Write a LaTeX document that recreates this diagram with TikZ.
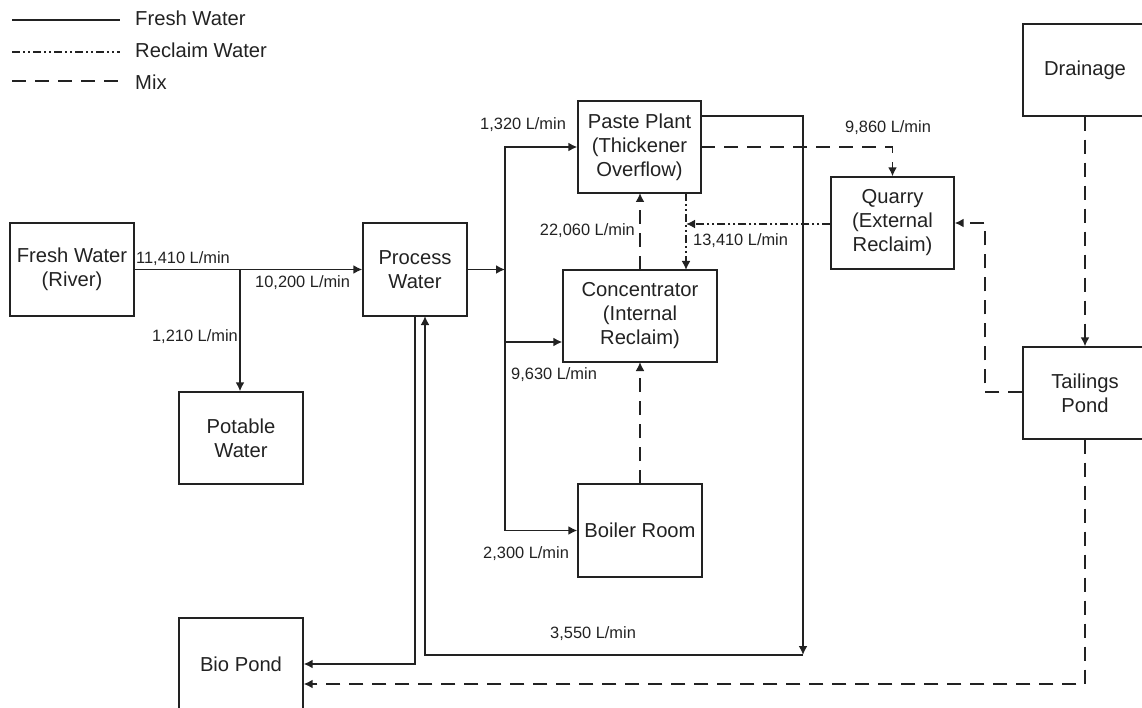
\documentclass[tikz,border=0pt]{standalone}
\usepackage{fontspec}
\setmainfont{Liberation Sans}
\usetikzlibrary{arrows.meta}
\definecolor{ink}{HTML}{222222}
\newcommand{\boxfont}{\fontsize{20.2}{24}\selectfont}
\newcommand{\lblfont}{\fontsize{16.4}{19}\selectfont}
\tikzset{
  box/.style={draw=ink, line width=1.3pt, align=center, inner sep=0pt, text=ink, font=\boxfont},
  lbl/.style={inner sep=0pt, text=ink, font=\lblfont},
  lgd/.style={inner sep=0pt, text=ink, font=\boxfont, anchor=west},
  fresh/.style={draw=ink, line width=1.9pt},
  reclaim/.style={draw=ink, line width=1.9pt, dash pattern=on 8pt off 3pt on 2pt off 3pt on 2pt off 3pt},
  mix/.style={draw=ink, line width=1.9pt, dash pattern=on 14pt off 9pt},
  tip/.style={-{Latex[length=9pt,width=9pt]}}
}
\begin{document}
\begin{tikzpicture}[x=1pt,y=-1pt]
\useasboundingbox (0,0) rectangle (1142,708);
\clip (0,0) rectangle (1142,708);

% legend
\coordinate (la1) at (12,20);  \coordinate (lb1) at (120,20);
\coordinate (la2) at (12,52);  \coordinate (lb2) at (120,52);
\coordinate (la3) at (12,81);  \coordinate (lb3) at (120,81);
\draw[fresh] (la1) -- (lb1);
\draw[reclaim] (la2) -- (lb2);
\draw[mix] (la3) -- (lb3);
\node[lgd] (lt1) at (135,18) {Fresh Water};
\node[lgd] (lt2) at (135,50) {Reclaim Water};
\node[lgd] (lt3) at (135,82) {Mix};

% boxes
\node[box, minimum width=124pt, minimum height=93pt] (fw) at (72,269.5) {Fresh Water\\(River)};
\node[box, minimum width=104pt, minimum height=93pt] (pw) at (415,269.5) {Process\\Water};
\node[box, minimum width=124pt, minimum height=92pt] (pot) at (241,438) {Potable\\Water};
\node[box, minimum width=124pt, minimum height=92pt] (bio) at (241,664) {Bio Pond};
\node[box, minimum width=123pt, minimum height=92pt] (pp) at (639.5,147) {Paste Plant\\(Thickener\\Overflow)};
\node[box, minimum width=154pt, minimum height=92pt] (conc) at (640,316) {Concentrator\\(Internal\\Reclaim)};
\node[box, minimum width=124pt, minimum height=93pt] (boil) at (640,530.5) {Boiler Room};
\node[box, minimum width=123pt, minimum height=92pt] (quar) at (892.5,223) {Quarry\\(External\\Reclaim)};
\node[box, minimum width=124pt, minimum height=92pt] (drain) at (1085,70) {Drainage};
\node[box, minimum width=124pt, minimum height=92pt] (tail) at (1085,393) {Tailings\\Pond};

% fresh water
\coordinate (b1) at (240,269.5);
\draw[fresh,tip] (fw.east) -- (pw.west);
\draw[fresh,tip] (b1) -- (b1 |- pot.north);
\coordinate (bt) at (505,147);
\coordinate (bm) at (505,269.5);
\coordinate (bc) at (505,342);
\coordinate (bb) at (505,530.5);
\draw[fresh,tip] (pw.east) -- (bm);
\draw[fresh,tip] (bb) -- (bt) -- (pp.west |- bt);
\draw[fresh,tip] (bc) -- (conc.west |- bc);
\draw[fresh,tip] (bb) -- (boil.west |- bb);
\coordinate (p1) at (415,316);
\coordinate (p2) at (415,664);
\draw[fresh,tip] (p1) -- (p2) -- (bio.east |- p2);
\coordinate (r0) at (701,116);
\coordinate (r1) at (803,116);
\coordinate (r2) at (803,655);
\coordinate (r3) at (425,655);
\coordinate (r4) at (425,316);
\draw[fresh,tip] (r0) -- (r1) -- (r2);
\draw[fresh,tip] (r2) -- (r3) -- (r4);

% mix
\coordinate (c1) at (640,270);
\coordinate (c2) at (640,193);
\draw[mix,tip] (c1) -- (c2);
\coordinate (c3) at (640,484);
\coordinate (c4) at (640,362);
\draw[mix,tip] (c3) -- (c4);
\coordinate (q0) at (701,147);
\coordinate (q1) at (892.5,147);
\draw[mix,tip] (q0) -- (q1) -- (quar.north);
\coordinate (t1) at (985,392);
\coordinate (t2) at (985,223);
\draw[mix,tip] (tail.west |- t1) -- (t1) -- (t2) -- (quar.east);
\draw[mix,tip] (drain.south) -- (tail.north);
\coordinate (d1) at (1085,684);
\draw[mix,tip] (tail.south) -- (d1) -- (bio.east |- d1);

% reclaim
\coordinate (e1) at (686,193);
\coordinate (e2) at (686,270);
\coordinate (e3) at (686,224);
\draw[reclaim,tip] (e1) -- (e2);
\draw[reclaim,tip] (quar.west |- e3) -- (e3);

% labels
\node[lbl, anchor=west] (l1) at (136,259) {11,410 L/min};
\node[lbl, anchor=west] (l2) at (255,283) {10,200 L/min};
\node[lbl, anchor=east] (l3) at (238,337) {1,210 L/min};
\node[lbl, anchor=west] (l4) at (480,125) {1,320 L/min};
\node[lbl, anchor=east] (l5) at (635,231) {22,060 L/min};
\node[lbl, anchor=west] (l6) at (693,241) {13,410 L/min};
\node[lbl, anchor=west] (l7) at (511,375) {9,630 L/min};
\node[lbl, anchor=west] (l8) at (483,554) {2,300 L/min};
\node[lbl, anchor=west] (l9) at (550,634) {3,550 L/min};
\node[lbl, anchor=west] (l10) at (845,128) {9,860 L/min};
\end{tikzpicture}
\end{document}
